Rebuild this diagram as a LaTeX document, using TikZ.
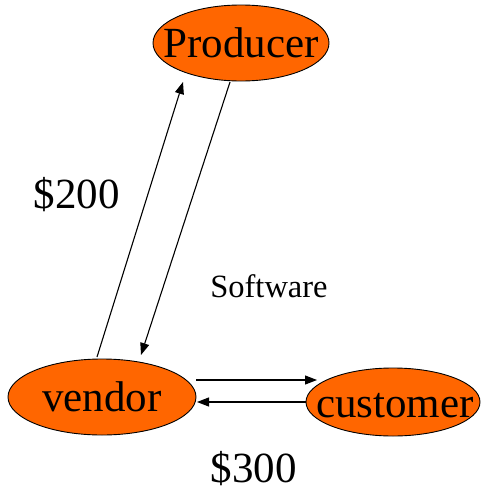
\documentclass[tikz,border=0pt]{standalone}
\usepackage{fontspec}
\setmainfont{Liberation Serif}
\usetikzlibrary{shapes.geometric,arrows.meta}
\definecolor{nodeorange}{HTML}{FF6600}
\begin{document}
\begin{tikzpicture}[x=1pt,y=-1pt,
  ell/.style={ellipse,draw=black,line width=0.9pt,fill=nodeorange,inner sep=0pt},
  big/.style={font=\fontsize{43}{43}\selectfont,inner sep=0pt},
  small/.style={font=\fontsize{32.5}{32.5}\selectfont,inner sep=0pt},
  conn/.style={line width=1.1pt,-{Triangle[length=12pt,width=9pt]}}]
\useasboundingbox (0,0) rectangle (481,490);
\node[ell,minimum width=176,minimum height=76] (p) at (241,43) {};
\node[big] (pt) at (p) {Producer};
\node[ell,minimum width=188,minimum height=76] (v) at (102,397) {};
\node[big] (vt) at (v) {vendor};
\node[ell,minimum width=174,minimum height=68] (c) at (393,402) {};
\node[big] (ct) at ([shift={(2,4)}]c.center) {customer};
\draw[conn] ([shift={(-5,-40)}]v.center) -- ([shift={(-58,39)}]p.center);
\draw[conn] ([shift={(-11,39)}]p.center) -- ([shift={(39,-42)}]v.center);
\draw[conn] ([shift={(94,-17)}]v.center) -- ([shift={(-76,-22)}]c.center);
\draw[conn] ([shift={(-87,0)}]c.center) -- ([shift={(95,5)}]v.center);
\node[big,anchor=base] (l200) at (77,208) {\$200};
\node[small,anchor=base] (lsw) at (269,297) {Software};
\node[big,anchor=base] (l300) at (253.5,482) {\$300};
\end{tikzpicture}
\end{document}
